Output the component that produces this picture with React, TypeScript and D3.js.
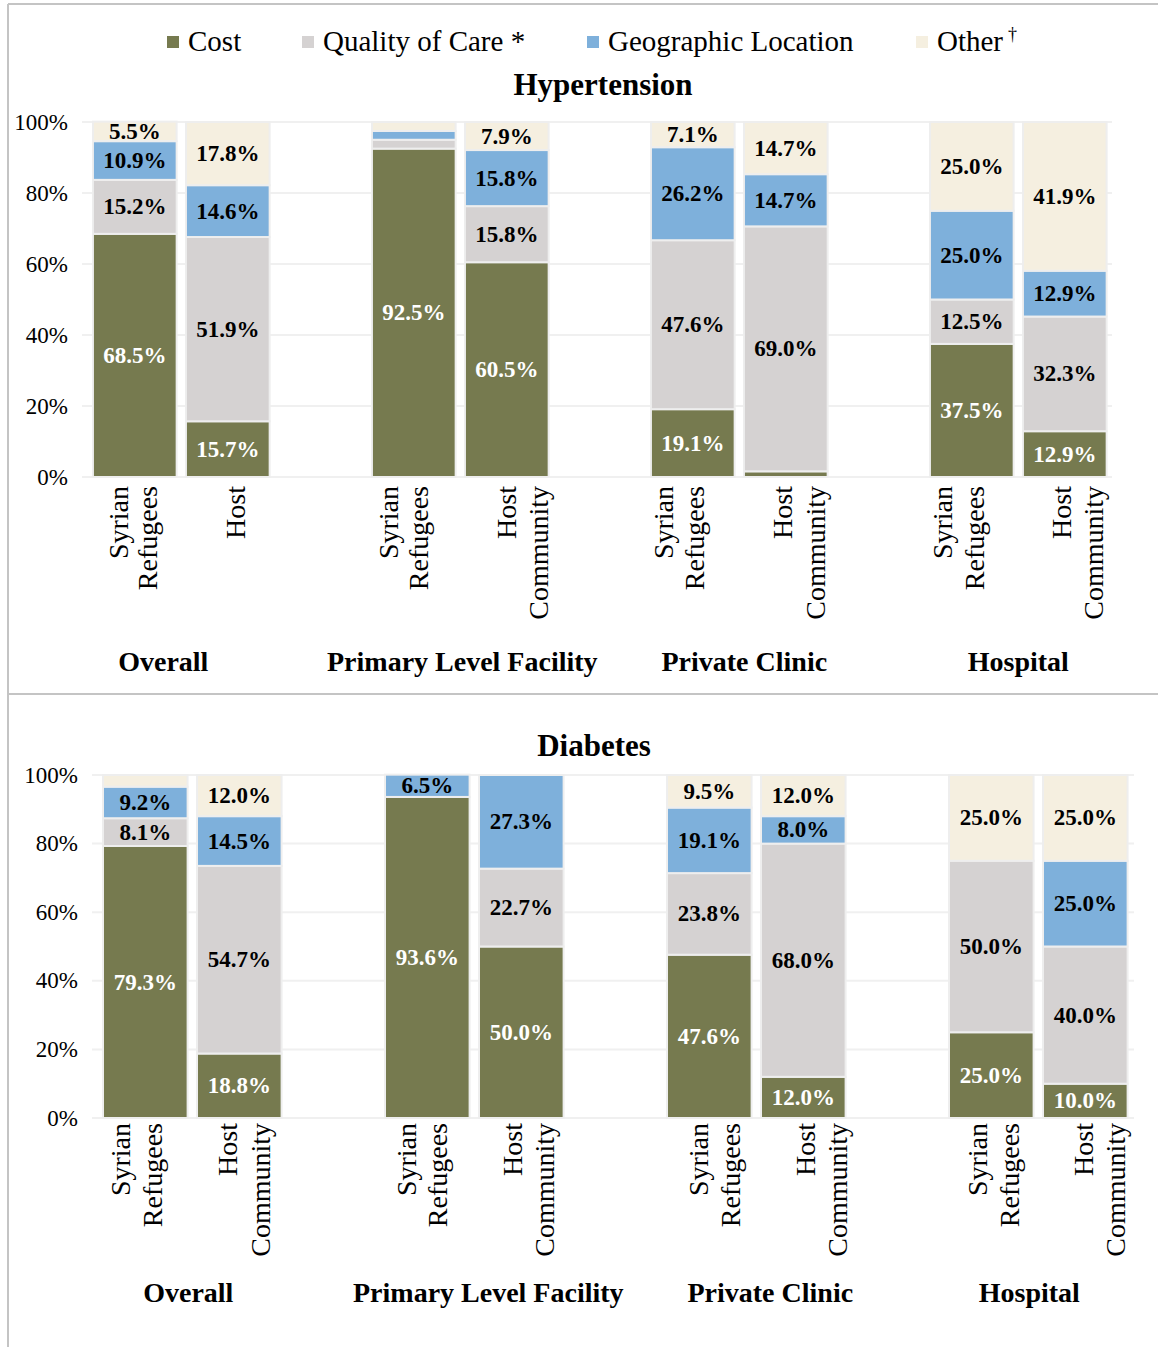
import React from "react";
import * as d3 from "d3";

// Reasons for choosing a facility, stacked per population
const factors = ["Cost", "Quality of Care *", "Geographic Location", "Other"];
const factorColors = ["#767a4f", "#d5d2d2", "#7eb0db", "#f5efe0"];
const facilities = ["Overall", "Primary Level Facility", "Private Clinic", "Hospital"];
const populations = ["Syrian Refugees", "Host Community"];
const yTicks = [0, 20, 40, 60, 80, 100];

// Hypertension (%), order: facility x [Syrian Refugees, Host Community]
const htnCost = [68.5, 15.7, 92.5, 60.5, 19.1, 1.6, 37.5, 12.9];
const htnQuality = [15.2, 51.9, 2.5, 15.8, 47.6, 69.0, 12.5, 32.3];
const htnGeo = [10.9, 14.6, 2.5, 15.8, 26.2, 14.7, 25.0, 12.9];
const htnOther = [5.5, 17.8, 2.5, 7.9, 7.1, 14.7, 25.0, 41.9];
const htnAxisLabels = [
  ["Syrian", "Refugees"], ["Host"],
  ["Syrian", "Refugees"], ["Host", "Community"],
  ["Syrian", "Refugees"], ["Host", "Community"],
  ["Syrian", "Refugees"], ["Host", "Community"],
];

// Diabetes (%)
const dmCost = [79.3, 18.8, 93.6, 50.0, 47.6, 12.0, 25.0, 10.0];
const dmQuality = [8.1, 54.7, 0, 22.7, 23.8, 68.0, 50.0, 40.0];
const dmGeo = [9.2, 14.5, 6.5, 27.3, 19.1, 8.0, 0, 25.0];
const dmOther = [3.4, 12.0, 0, 0, 9.5, 12.0, 25.0, 25.0];
const dmAxisLabels = [
  ["Syrian", "Refugees"], ["Host", "Community"],
  ["Syrian", "Refugees"], ["Host", "Community"],
  ["Syrian", "Refugees"], ["Host", "Community"],
  ["Syrian", "Refugees"], ["Host", "Community"],
];

const FONT = "'Liberation Serif', 'Times New Roman', serif";

type PanelProps = {
  title: string;
  titleX: number;
  titleY: number;
  series: number[][];
  axisLabels: string[][];
  labelOffsets: number[][];
  groupShift: number[];
  x0: number;
  x1: number;
  yBase: number;
  yTop: number;
  tickX: number;
  gridX0: number;
  gridX1: number;
  labelTop: number;
  groupY: number;
};

function Panel(p: PanelProps) {
  const slots: string[] = [];
  facilities.forEach((_, i) => {
    populations.forEach((_, j) => slots.push(`${i}-${j}`));
    if (i < facilities.length - 1) slots.push(`${i}-gap`);
  });
  const x = d3.scaleBand<string>().domain(slots).range([p.x0, p.x1]).paddingInner(0.1).paddingOuter(0.05);
  const y = d3.scaleLinear().domain([0, 100]).range([p.yBase, p.yTop]);

  const rows = facilities.flatMap((_, i) =>
    populations.map((_, j) => {
      const idx = i * 2 + j;
      const row: any = { key: `${i}-${j}`, idx, pop: j };
      factors.forEach((f, k) => (row[f] = p.series[k][idx]));
      return row;
    })
  );
  const stacked = d3.stack<any>().keys(factors)(rows);
  const bw = x.bandwidth();

  return (
    <g>
      {yTicks.map((t) => (
        <g key={t}>
          <line x1={p.gridX0} x2={p.gridX1} y1={y(t)} y2={y(t)} stroke="#f0f0f0" strokeWidth={2} />
          <text x={p.tickX} y={y(t)} textAnchor="end" dominantBaseline="central" fontSize={23} fontFamily={FONT} fill="#000">
            {t}%
          </text>
        </g>
      ))}
      {stacked.map((layer, k) =>
        layer.map((d) => {
          const v = d[1] - d[0];
          if (v <= 0) return null;
          const bx = x(d.data.key)!;
          return (
            <rect
              key={`${k}-${d.data.key}`}
              x={bx}
              y={y(d[1])}
              width={bw}
              height={y(d[0]) - y(d[1])}
              fill={factorColors[k]}
              stroke="#eeeeee"
              strokeWidth={2}
            />
          );
        })
      )}
      {stacked.map((layer, k) =>
        layer.map((d) => {
          const v = d[1] - d[0];
          if (v < 4) return null;
          const bx = x(d.data.key)!;
          return (
            <text
              key={`l${k}-${d.data.key}`}
              x={bx + bw / 2}
              y={y((d[0] + d[1]) / 2)}
              textAnchor="middle"
              dominantBaseline="central"
              fontSize={23}
              fontWeight="bold"
              fontFamily={FONT}
              fill={k === 0 ? "#ffffff" : "#000000"}
            >
              {v.toFixed(1)}%
            </text>
          );
        })
      )}
      {rows.map((r) => {
        const cx = x(r.key)! + bw / 2;
        const lines = p.axisLabels[r.idx];
        const offsets = p.labelOffsets[r.idx];
        return lines.map((ln, li) => (
          <text
            key={`a${r.key}-${li}`}
            transform={`translate(${cx + offsets[li]},${p.labelTop}) rotate(-90)`}
            textAnchor="end"
            dominantBaseline="central"
            fontSize={28}
            fontFamily={FONT}
            fill="#000"
          >
            {ln}
          </text>
        ));
      })}
      {facilities.map((f, i) => {
        const a = x(`${i}-0`)!;
        const b = x(`${i}-1`)! + bw;
        return (
          <text
            key={f}
            x={(a + b) / 2 + p.groupShift[i]}
            y={p.groupY}
            textAnchor="middle"
            fontSize={28}
            fontWeight="bold"
            fontFamily={FONT}
            fill="#000"
          >
            {f}
          </text>
        );
      })}
      <text x={p.titleX} y={p.titleY} textAnchor="middle" fontSize={31} fontWeight="bold" fontFamily={FONT} fill="#000">
        {p.title}
      </text>
    </g>
  );
}

export default function App() {
  const legendX = [167, 302, 587, 916];
  return (
    <div style={{ position: "absolute", left: 0, top: 0 }}>
      <svg width={1158} height={1347} style={{ display: "block", background: "#fff" }}>
        <rect x={0} y={0} width={1158} height={1347} fill="#fff" />
        {/* frame */}
        <line x1={8} x2={1158} y1={4} y2={4} stroke="#c4c4c4" strokeWidth={2} />
        <line x1={8} x2={8} y1={4} y2={1347} stroke="#c4c4c4" strokeWidth={2} />
        <line x1={8} x2={1158} y1={694} y2={694} stroke="#c4c4c4" strokeWidth={2} />

        {/* legend */}
        {factors.map((f, i) => (
          <g key={f}>
            <rect x={legendX[i]} y={36} width={12} height={12} fill={factorColors[i]} />
            <text x={legendX[i] + 21} y={51} fontSize={29} fontFamily={FONT} fill="#000">
              {f}
            </text>
          </g>
        ))}
        <text x={1008} y={40} fontSize={18} fontFamily={FONT} fill="#000">†</text>

        <Panel
          title="Hypertension"
          titleX={603}
          titleY={95}
          series={[htnCost, htnQuality, htnGeo, htnOther]}
          axisLabels={htnAxisLabels}
          labelOffsets={[[-16, 13], [8], [-25, 5], [0, 32], [-29, 2], [-3, 30], [-29, 3], [-3, 29]]}
          groupShift={[-18, 2, 5, 0]}
          x0={88.3}
          x1={1111.3}
          yBase={477}
          yTop={122}
          tickX={68}
          gridX0={82}
          gridX1={1112}
          labelTop={486}
          groupY={671}
        />
        <Panel
          title="Diabetes"
          titleX={594}
          titleY={756}
          series={[dmCost, dmQuality, dmGeo, dmOther]}
          axisLabels={dmAxisLabels}
          labelOffsets={[[-25, 7], [-12, 21], [-21, 10], [-9, 23], [-11, 21], [2, 34], [-14, 18], [-2, 30]]}
          groupShift={[-4, 14, 14, -9]}
          x0={98.3}
          x1={1132.3}
          yBase={1118}
          yTop={775}
          tickX={78}
          gridX0={92}
          gridX1={1134}
          labelTop={1123}
          groupY={1302}
        />
      </svg>
    </div>
  );
}
